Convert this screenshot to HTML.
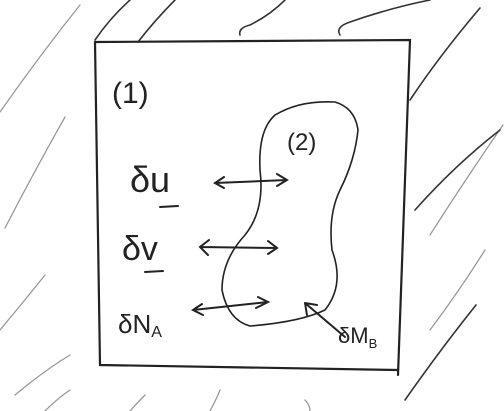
<!DOCTYPE html>
<html><head><meta charset="utf-8"><style>
html,body{margin:0;padding:0;background:#fff}
svg{display:block}
text{font-family:"Liberation Sans",sans-serif;fill:#222}
</style></head><body>
<svg width="504" height="411" viewBox="0 0 504 411">
<g stroke="#999" stroke-width="1.3" fill="none" stroke-linecap="round">
<path d="M0 112 Q40 55 80 5"/>
<path d="M5 228 Q35 170 65 117"/>
<path d="M0 330 Q25 300 45 275"/>
<path d="M15 395 Q45 370 70 355"/>
<path d="M45 411 Q58 398 70 390"/>
<path d="M130 411 Q138 402 145 395"/>
<path d="M210 411 Q216 400 220 390"/>
<path d="M305 400 Q310 405 310 411"/>
<path d="M430 330 Q460 290 485 250"/>
<path d="M430 235 Q465 180 503 125"/>
</g>
<g stroke="#333" stroke-width="1.6" fill="none" stroke-linecap="round">
<path d="M95 40 Q110 18 130 0"/>
<path d="M138 42 Q155 20 175 0"/>
<path d="M240 35 Q238 28 250 25 Q270 15 285 0"/>
<path d="M340 35 Q335 27 350 22 Q390 8 430 0"/>
<path d="M410 100 Q440 55 480 8"/>
<path d="M415 210 Q455 165 500 130"/>
<path d="M405 400 Q440 350 476 305"/>
</g>
<g stroke="#222" stroke-width="2.2" fill="none" stroke-linecap="round">
<path d="M95 42 L410 40 L398 375"/>
<path d="M95 42 Q98 200 100 365 L398 370"/>
</g>
<path fill="none" stroke="#222" stroke-width="1.6"
d="M335 102 Q355 108 358 130 Q355 160 340 190 Q328 215 332 250 Q345 285 325 310 Q300 322 250 326 Q228 320 222 290 Q222 260 245 235 Q265 210 260 170 Q258 130 275 115 Q300 100 335 102 Z"/>
<text x="112" y="103" font-size="30">(1)</text>
<text x="287" y="150" font-size="24">(2)</text>
<text x="130" y="192" font-size="36">δu</text>
<text x="122" y="260" font-size="34">δv</text>
<text x="118" y="333" font-size="26">δN<tspan font-size="16" dy="4">A</tspan></text>
<text x="338" y="343" font-size="22">δM<tspan font-size="13" dy="5">B</tspan></text>
<g stroke="#222" stroke-width="2" stroke-linecap="round">
<path d="M160 207 L178 206"/><path d="M145 272 L163 271"/>
</g>
<g stroke="#222" stroke-width="2" fill="none" stroke-linecap="round">
<path d="M215 183 L287 180 M277 174 L287 180 L277 186 M224 177 L215 183 L224 188"/>
<path d="M200 247 L277 248 M268 241 L277 248 L268 254 M209 240 L200 247 L208 255"/>
<path d="M193 310 L268 302 M258 297 L268 302 L256 308 M202 304 L193 310 L203 315"/>
<path d="M305 303 L345 337 M305 303 L317 305 M305 303 L307 315"/>
</g>
</svg>
</body></html>
